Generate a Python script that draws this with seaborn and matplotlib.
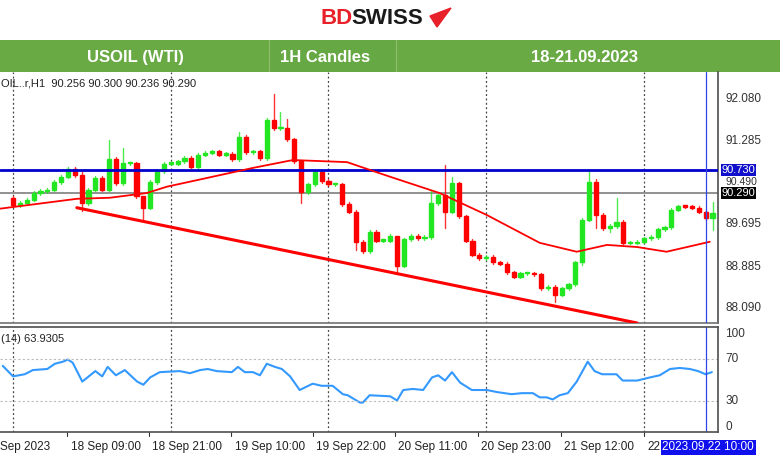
import matplotlib
matplotlib.use("Agg")
import matplotlib.pyplot as plt
import seaborn as sns
import numpy as np
import pandas as pd

sns.set_theme(style="white")
plt.rcParams['font.family'] = ['Liberation Sans', 'DejaVu Sans']

first_open = 90.20
closes = [90.06,90.10,90.16,90.29,90.33,90.35,90.50,90.60,90.75,90.63,
          90.10,90.35,90.58,90.35,90.94,90.48,90.86,90.86,90.23,90.01,
          90.50,90.71,90.85,90.85,90.90,90.96,90.79,91.02,91.06,91.09,
          91.02,91.04,90.94,91.36,91.07,91.09,90.96,91.69,91.53,91.53,
          91.32,90.90,90.31,90.46,90.69,90.52,90.46,90.46,90.08,89.93,
          89.36,89.18,89.55,89.38,89.38,89.47,88.90,89.41,89.47,89.43,
          89.45,90.10,90.25,89.93,90.48,89.85,89.38,89.11,89.05,89.07,
          88.97,88.94,88.78,88.69,88.76,88.76,88.74,88.47,88.50,88.35,
          88.47,88.55,88.97,89.78,90.50,89.87,89.62,89.66,89.74,89.34,
          89.34,89.36,89.43,89.45,89.60,89.64,89.97,90.04,90.03,90.01,
          89.93,89.81,89.91]
wick_highs = {10: 90.72, 14: 91.30, 16: 91.15, 19: 90.05, 33: 91.45, 37: 91.72,
              38: 92.18, 39: 91.84, 40: 91.70, 56: 89.05, 61: 90.35, 63: 90.83,
              64: 90.60, 84: 90.73, 85: 90.55, 88: 90.20, 102: 90.12}
wick_lows = {10: 89.95, 19: 89.75, 42: 90.10, 50: 89.20, 56: 88.75, 63: 89.62,
             79: 88.22, 83: 88.92, 85: 89.62, 87: 89.55, 102: 89.58}

ma_idx = [-2, 9.3, 14.1, 19.5, 22.4, 35, 40.8, 48.7, 55, 62.2, 69.1, 76.8, 82.2, 86.6, 91, 95.3, 101.6]
ma_val = [89.99, 90.18, 90.20, 90.29, 90.41, 90.77, 90.92, 90.88, 90.60, 90.29, 89.87, 89.34, 89.17, 89.30, 89.26, 89.17, 89.36]

trend_idx = [9.3, 91]
trend_val = [90.01, 87.81]

rsi_idx = [-1.5,0,1.7,2.9,5,6.1,7.3,8,8.7,10.1,12,13,13.8,15,16.3,18.1,19,20,21.4,24.3,25.8,27.3,
           28.4,29.7,31.9,32.8,33.8,35,36,37,38.2,39.2,40.4,41.8,43.7,45,46.6,48.1,48.8,50.6,51,52,
           55,56,56.9,58.3,59.8,61.1,62,63,64,65.2,66.9,69.1,70.6,72.7,74.2,75.8,76.8,77.8,78.7,79.7,
           80.9,82.2,83.8,84.8,85.9,88,88.9,91,92.9,94.3,95.8,97.2,98.7,99.9,101,101.9]
rsi_val = [63,53,55,59,60,65,67,69,66,48,58,53,62,54,59,48,45,52,57,58,56,59,60,58,57,62,57,
           57,54,65,62,60,53,40,46,44,44,36,35,28,28,35,34,30,40,41,40,52,54,49,57,47,40,40,38,
           36,37,37,33,33,31,35,37,48,67,58,55,55,49,49,52,54,60,61,60,58,55,57]

xtick_pos = [7.9, 19.8, 31.8, 43.7, 55.7, 67.8, 79.9, 92]
xtick_lab = ["18 Sep 09:00", "18 Sep 21:00", "19 Sep 10:00", "19 Sep 22:00",
             "20 Sep 11:00", "20 Sep 23:00", "21 Sep 12:00", "22"]
grid_pos = [0, 23, 46, 69, 92]
price_ticks = [92.080, 91.285, 90.490, 89.695, 88.885, 88.090]
blue_level = 90.730
gray_level = 90.290
cursor_idx = 101

W, H = 780, 463
fig = plt.figure(figsize=(W/100, H/100), dpi=100)
fig.patch.set_facecolor("white")

def fx(px): return px / W
def fy(py): return 1 - py / H

GREEN = "#22E622"
RED = "#FF0000"
XL = (-1.9, 102.8)

# header
hdr = fig.add_axes([0, fy(72), 1, (72-40)/H])
hdr.set_xlim(0, W); hdr.set_ylim(0, 1); hdr.axis("off")
hdr.add_patch(plt.Rectangle((0, 0), W, 1, color="#6AAA45"))
hdr.add_patch(plt.Rectangle((269, 0.05), 127, 0.95, color="#66A843"))
for xv in (269, 396):
    hdr.plot([xv, xv], [0, 1], color="#8fc070", lw=0.8)
for t, xv in [("USOIL (WTI)", 135), ("1H Candles", 325), ("18-21.09.2023", 585)]:
    hdr.text(xv, 0.45, t, color="white", fontsize=12, fontweight="bold", ha="center", va="center")
fig.text(fx(321), fy(18), "BD", color="#E8202A", fontsize=16, fontweight="bold", va="center")
fig.text(fx(351), fy(18), "SWISS", color="#1a1a1a", fontsize=16, fontweight="bold", va="center")
fig.patches.append(plt.Polygon([[fx(430), fy(16)], [fx(451), fy(8)], [fx(437), fy(27)]],
                               closed=True, transform=fig.transFigure, color="#E8202A"))

# main price axes
ax = fig.add_axes([0, fy(323), fx(718), (323-72)/H])
ax.set_xlim(*XL); ax.set_ylim(87.81, 92.60)
n = len(closes)
opens = [first_open] + closes[:-1]
for i in range(n):
    o, c = opens[i], closes[i]
    col = GREEN if c >= o else RED
    hi = wick_highs.get(i, max(o, c) + 0.03)
    lo = wick_lows.get(i, min(o, c) - 0.03)
    ax.plot([i, i], [lo, hi], color=col, lw=1, alpha=0.8, zorder=3)
    body = max(abs(c - o), 0.025)
    ax.add_patch(plt.Rectangle((i - 0.3, min(o, c)), 0.6, body, color=col, zorder=4))
ax.axhline(blue_level, color="#0000CC", lw=2, zorder=5)
ax.axhline(gray_level, color="#888888", lw=1.3, zorder=2)
sns.lineplot(x=ma_idx, y=ma_val, ax=ax, color=RED, lw=1.3, zorder=5)
sns.lineplot(x=trend_idx, y=trend_val, ax=ax, color=RED, lw=2.2, zorder=5)
for g in grid_pos:
    ax.axvline(g, color="#444444", ls=(0, (1.5, 2)), lw=0.9, zorder=1)
ax.axvline(cursor_idx, color="#3344EE", lw=0.9, zorder=6)
ax.set_xticks([]); ax.set_yticks([])
ax.set_xlabel(""); ax.set_ylabel("")
for s in ax.spines.values():
    s.set_visible(False)
ax.spines["bottom"].set_visible(True); ax.spines["bottom"].set_color("#777777")
ax.spines["right"].set_visible(True); ax.spines["right"].set_color("#555555")
ax.text(0.002, 0.975, "OIL..r,H1  90.256 90.300 90.236 90.290", transform=ax.transAxes,
        fontsize=8, color="#222222", va="top")
for p in price_ticks:
    yy = 90.51 if p == 90.490 else p
    fs = 7.5 if p == 90.490 else 8.5
    ax.text(1.01, yy, f"{p:.3f}", transform=ax.get_yaxis_transform(), fontsize=fs,
            color="#333333", va="center", ha="left")
ax.text(1.005, blue_level, "90.730", transform=ax.get_yaxis_transform(), fontsize=8,
        color="white", va="center", ha="left",
        bbox=dict(boxstyle="square,pad=0.08", fc="#1010CC", ec="none"))
ax.text(1.005, gray_level, "90.290", transform=ax.get_yaxis_transform(), fontsize=8,
        color="white", va="center", ha="left",
        bbox=dict(boxstyle="square,pad=0.08", fc="black", ec="none"))

# RSI axes
ax2 = fig.add_axes([0, fy(432), fx(718), (432-327)/H])
ax2.set_xlim(*XL); ax2.set_ylim(0, 100)
sns.lineplot(x=rsi_idx, y=rsi_val, ax=ax2, color="#3399FF", lw=1.5)
for lvl in (70, 30):
    ax2.axhline(lvl, color="#bbbbbb", ls=(0, (2, 2)), lw=0.8)
for g in grid_pos:
    ax2.axvline(g, color="#444444", ls=(0, (1.5, 2)), lw=0.9, zorder=1)
ax2.axvline(cursor_idx, color="#3344EE", lw=0.9)
ax2.set_yticks([]); ax2.set_xticks([])
ax2.set_xlabel(""); ax2.set_ylabel("")
for s in ax2.spines.values():
    s.set_color("#555555")
ax2.spines["left"].set_visible(False)
for v, lab in [(93, "100"), (70, "70"), (30, "30"), (5, "0")]:
    ax2.text(1.01, v, lab, transform=ax2.get_yaxis_transform(), fontsize=8.5, color="#333333", va="center")
ax2.text(0.002, 0.93, "(14) 63.9305", transform=ax2.transAxes, fontsize=8, color="#222222", va="top")
ax2.text(-1.9, -9, "Sep 2023", fontsize=8.5, color="#222222", va="top", ha="left")
for p, lab in zip(xtick_pos, xtick_lab):
    ax2.plot([p, p], [0, -4], color="#333333", lw=0.8, clip_on=False)
    ax2.text(p + 0.5, -9, lab, fontsize=8.5, color="#222222", va="top", ha="left")
ax2.text(cursor_idx - 6.3, -9, "2023.09.22 10:00", fontsize=8.5, color="white", va="top", ha="left",
         bbox=dict(boxstyle="square,pad=0.15", fc="#1010EE", ec="none"))

fig.savefig("out.png", dpi=100)
